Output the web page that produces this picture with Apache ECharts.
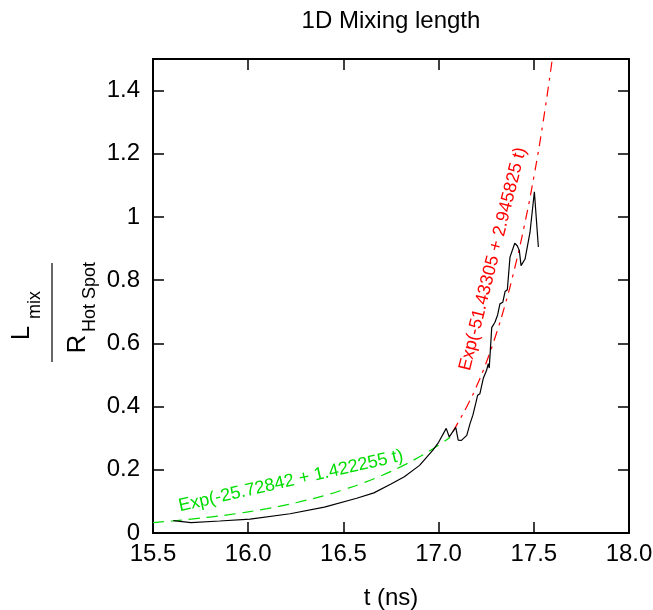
<!DOCTYPE html>
<html>
<head>
<meta charset="utf-8">
<title>1D Mixing length</title>
<script src="https://cdn.jsdelivr.net/npm/echarts@6/dist/echarts.min.js"></script>
<style>
  html, body { margin: 0; padding: 0; background: #ffffff; }
  #chart { width: 653px; height: 610px; }
</style>
</head>
<body>
<div id="chart"></div>
<script>
// Measured mixing length normalised by hot-spot radius, versus time (ns)
const tMeasured = [15.607, 15.70, 15.85, 16.01, 16.22, 16.40, 16.57, 16.66, 16.75, 16.82,
  16.90, 16.97, 17.00, 17.04, 17.056, 17.09, 17.103, 17.12, 17.148, 17.165,
  17.18, 17.195, 17.205, 17.217, 17.235, 17.252, 17.261, 17.266, 17.279, 17.296,
  17.31, 17.322, 17.337, 17.349, 17.361, 17.375, 17.40, 17.413, 17.424, 17.433,
  17.454, 17.48, 17.503, 17.524];
const mixMeasured = [0.039, 0.033, 0.038, 0.044, 0.061, 0.082, 0.110, 0.127, 0.155, 0.178,
  0.214, 0.262, 0.287, 0.331, 0.304, 0.334, 0.294, 0.293, 0.309, 0.346,
  0.373, 0.410, 0.436, 0.441, 0.490, 0.515, 0.536, 0.522, 0.650, 0.667,
  0.690, 0.725, 0.730, 0.764, 0.770, 0.873, 0.917, 0.909, 0.894, 0.846,
  0.867, 0.951, 1.080, 0.905];

// Early-time exponential fit curve
const tEarlyFit = [15.5, 15.6, 15.7, 15.8, 15.9, 16.0, 16.1, 16.2, 16.3, 16.4,
  16.5, 16.6, 16.7, 16.8, 16.9, 17.0, 17.06];
const earlyFit = [0.033, 0.038, 0.044, 0.0505, 0.058, 0.067, 0.077, 0.089, 0.103, 0.1185,
  0.137, 0.1575, 0.1816, 0.2093, 0.2413, 0.278, 0.303];

// Late-time exponential fit curve
const tLateFit = [17.075, 17.1, 17.15, 17.2, 17.25, 17.3, 17.35, 17.4, 17.45, 17.5, 17.55, 17.597];
const lateFit = [0.321, 0.347, 0.402, 0.465, 0.539, 0.625, 0.724, 0.839, 0.972, 1.126, 1.305, 1.5];

// Tick labels
const xTickLabels = ['15.5', '16.0', '16.5', '17.0', '17.5', '18.0'];
const yTickLabels = ['0', '0.2', '0.4', '0.6', '0.8', '1', '1.2', '1.4'];

const earlyFitText = 'Exp(-25.72842 + 1.422255 t)';
const lateFitText = 'Exp(-51.43305 + 2.945825 t)';

const FONT = '"Liberation Sans", Arial, Helvetica, sans-serif';
const GREEN = '#00dd00';
const RED = '#ff0000';

const pairs = (xs, ys) => xs.map((x, i) => [x, ys[i]]);

const frameLine = { show: true, onZero: false, lineStyle: { color: '#000', width: 2 } };
const innerTicks = { show: true, inside: true, length: 11, lineStyle: { color: '#000', width: 1.5 } };

function xLabel(v) {
  const k = Math.round((v - 15.5) / 0.5);
  return Math.abs(15.5 + k * 0.5 - v) < 1e-6 && xTickLabels[k] !== undefined ? xTickLabels[k] : '';
}
function yLabel(v) {
  const k = Math.round(v / 0.2);
  return Math.abs(k * 0.2 - v) < 1e-6 && yTickLabels[k] !== undefined ? yTickLabels[k] : '';
}

const chart = echarts.init(document.getElementById('chart'), null, { renderer: 'canvas' });

const option = {
  animation: false,
  backgroundColor: '#ffffff',
  grid: {
    left: 153, right: 24, top: 59, bottom: 77, show: false,
    containLabel: false, outerBoundsMode: 'none'
  },
  xAxis: [
    {
      type: 'value', min: 15.5, max: 18.0, interval: 0.5, position: 'bottom',
      axisLine: frameLine, axisTick: innerTicks, splitLine: { show: false },
      axisLabel: { color: '#000', fontSize: 24, fontFamily: FONT, margin: 9, formatter: xLabel },
      name: 't (ns)', nameLocation: 'middle', nameGap: 53, nameMoveOverlap: false,
      nameTextStyle: { color: '#000', fontSize: 24, fontFamily: FONT }
    },
    {
      type: 'value', min: 15.5, max: 18.0, interval: 0.5, position: 'top',
      axisLine: frameLine, axisTick: innerTicks, splitLine: { show: false },
      axisLabel: { show: false }
    }
  ],
  yAxis: [
    {
      type: 'value', min: 0, max: 1.5, interval: 0.2, position: 'left',
      axisLine: frameLine, axisTick: innerTicks, splitLine: { show: false },
      axisLabel: { color: '#000', fontSize: 24, fontFamily: FONT, margin: 13, formatter: yLabel }
    },
    {
      type: 'value', min: 0, max: 1.5, interval: 0.2, position: 'right',
      axisLine: frameLine, axisTick: innerTicks, splitLine: { show: false },
      axisLabel: { show: false }
    }
  ],
  series: [
    {
      name: 'early fit', type: 'line', xAxisIndex: 0, yAxisIndex: 0,
      data: pairs(tEarlyFit, earlyFit), smooth: true, showSymbol: false, silent: true,
      lineStyle: { color: GREEN, width: 1.2, type: [11, 7] }
    },
    {
      name: 'late fit', type: 'line', xAxisIndex: 0, yAxisIndex: 0,
      data: pairs(tLateFit, lateFit), smooth: true, showSymbol: false, silent: true,
      lineStyle: { color: RED, width: 1.2, type: [10, 6, 3, 6] }
    },
    {
      name: 'L_mix / R_HotSpot', type: 'line', xAxisIndex: 0, yAxisIndex: 0,
      data: pairs(tMeasured, mixMeasured), showSymbol: false, silent: true,
      lineStyle: { color: '#000', width: 1.2 }
    }
  ],
  graphic: [
    {
      type: 'text', x: 391, y: 21, silent: true,
      style: { text: '1D Mixing length', fill: '#000', fontSize: 24, fontFamily: FONT,
        textAlign: 'center', textVerticalAlign: 'middle' }
    },
    {
      type: 'text', x: 291, y: 481, rotation: 12.8 * Math.PI / 180, silent: true,
      style: { text: earlyFitText, fill: GREEN, fontSize: 18, fontFamily: FONT,
        textAlign: 'center', textVerticalAlign: 'middle' }
    },
    {
      type: 'text', x: 493, y: 259, rotation: 75.8 * Math.PI / 180, silent: true,
      style: { text: lateFitText, fill: RED, fontSize: 18, fontFamily: FONT,
        textAlign: 'center', textVerticalAlign: 'middle' }
    },
    // y-axis title: L_mix over R_Hot Spot, written as a vertical fraction
    {
      type: 'text', x: 22, y: 333, rotation: Math.PI / 2, silent: true,
      style: { text: 'L', fill: '#000', fontSize: 26, fontFamily: FONT,
        textAlign: 'center', textVerticalAlign: 'middle' }
    },
    {
      type: 'text', x: 35, y: 305, rotation: Math.PI / 2, silent: true,
      style: { text: 'mix', fill: '#000', fontSize: 18, fontFamily: FONT,
        textAlign: 'center', textVerticalAlign: 'middle' }
    },
    {
      type: 'line', silent: true,
      shape: { x1: 52, y1: 263, x2: 52, y2: 362 },
      style: { stroke: '#000', lineWidth: 1.2 }
    },
    {
      type: 'text', x: 78, y: 344, rotation: Math.PI / 2, silent: true,
      style: { text: 'R', fill: '#000', fontSize: 26, fontFamily: FONT,
        textAlign: 'center', textVerticalAlign: 'middle' }
    },
    {
      type: 'text', x: 90, y: 297, rotation: Math.PI / 2, silent: true,
      style: { text: 'Hot Spot', fill: '#000', fontSize: 18, fontFamily: FONT,
        textAlign: 'center', textVerticalAlign: 'middle' }
    }
  ]
};

chart.setOption(option);
</script>
</body>
</html>
